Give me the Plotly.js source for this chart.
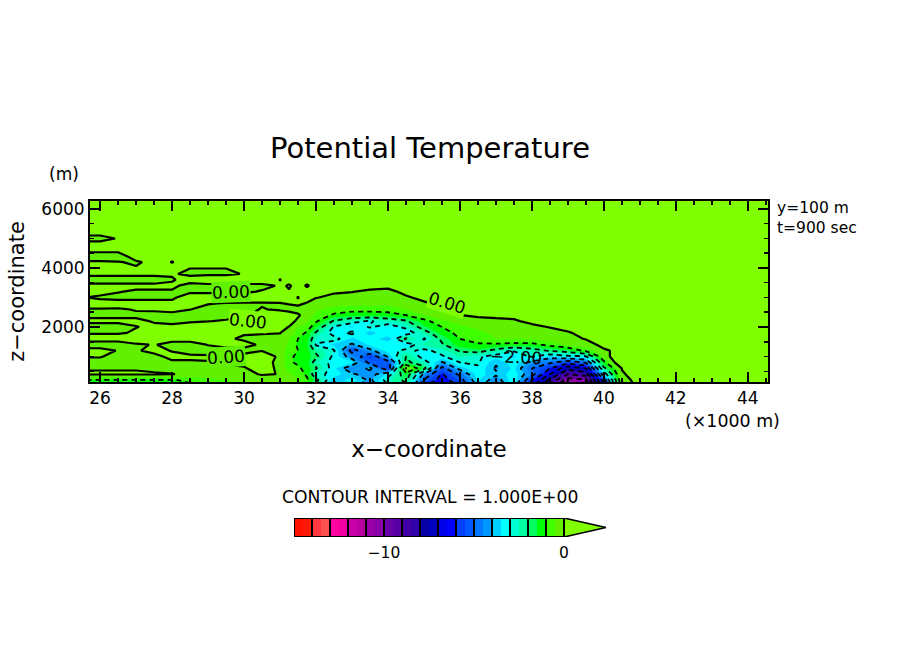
<!DOCTYPE html>
<html>
<head>
<meta charset="utf-8">
<script src="https://cdn.plot.ly/plotly-3.0.1.min.js"></script>
<style>html,body{margin:0;padding:0;background:#fff}</style>
</head>
<body>
<div id="chart" style="width:904px;height:654px"></div>
<script>
const xKm = [25.7,26,26.5,27,27.5,28,28.5,29,29.5,30,30.5,31,31.25,31.5,31.75,32,32.5,33,33.5,34,34.5,35,35.5,36,36.5,37,37.5,38,38.5,39,39.5,40,40.5,41,42,44.6];
const zM = [100,200,400,600,800,1000,1200,1400,1600,1800,2000,2200,2400,2600,2800,3000,3200,3400,3600,3800,4000,4200,4400,4600,4800,5000,5200,6300];
const r100=[-1.2,-1.2,-1.2,-1.2,-1.2,-1.2,-1,-.8,-.6,-.5,-.3,-.2,-.4,-.7,-1,-2,-4.1,-3.5,-4.4,-2.9,-2,-5.6,-6.8,-5.6,-3.6,-4.6,-3.2,-6.4,-8.8,-11,-10.8,-6,-.3,.2,.1,.1];
const r200=[-1.05,-1.05,-1.05,-1.05,-1.05,-1.05,-.9,-.7,-.5,-.4,-.2,-.15,-.3,-.5,-.9,-1.7,-3.9,-3.2,-4.2,-2.6,-1.8,-5.1,-6.4,-5.4,-3.4,-4.4,-3.1,-6,-8.2,-10.5,-10.2,-5.5,-.2,.2,.1,.1];
const r400=[.05,.05,.05,.05,.03,.01,-.05,-.1,-.1,-.1,.03,-.01,-.4,-.7,-1.1,-2.8,-3.2,-3.9,-4.3,-3.4,-1.4,-4.2,-6.1,-4.8,-3.2,-3.9,-3.2,-4.6,-7,-9,-8.5,-3.5,-.05,.2,.1,.1];
const r600=[-.03,-.03,-.03,-.03,-.06,-.1,-.1,-.1,-.05,-.02,.1,-.05,-.8,-.9,-1.2,-1.9,-3.4,-4.6,-3.8,-5.7,.05,-1.6,-5.3,-3.7,-3.1,-4.1,-3.4,-5,-6,-7.7,-7,-2.2,.02,.1,.1,.1];
const r800=[-.1,-.1,-.1,-.1,-.1,-.03,-.03,-.01,.03,.05,.15,-.1,-.9,-1.1,-1.3,-2.4,-3.3,-3.4,-5.3,-5.4,-1.8,-2.6,-4.1,-3,-2.9,-3.9,-3.2,-4.3,-4.8,-5.6,-4.8,-1.2,.8,.1,.1,.1];
const r1000=[.02,.02,-.1,-.1,-.05,.05,.05,.03,.1,.1,.15,-.05,-.9,-1.1,-1.3,-1.8,-3.2,-4.4,-5.7,-3.9,-2,-3.4,-3.1,-2.4,-2.9,-3.3,-3.6,-2.9,-3.6,-3.2,-3.1,-.3,.6,.1,.1,.1];
const r1200=[.2,.2,-.03,-.02,.05,-.01,-.1,-.1,-.1,-.1,-.01,-.2,-.7,-1,-1.3,-2.2,-2.9,-5.4,-4.2,-3.3,-2.8,-3.2,-2.7,-1.9,-1.6,-2.3,-2.9,-2.4,-1.9,-1.6,-.8,-.05,.1,.1,.1,.1];
const r1400=[-.3,-.3,-.3,-.05,.02,-.1,-.1,.01,.1,.1,-.05,-.2,-.6,-1.1,-1.4,-3.1,-3.6,-4.1,-3.4,-3.1,-3.6,-2.4,-2.1,-1.2,-1.1,-1.1,-1.2,-1.2,-.8,-.4,-.15,.1,.1,.1,.1,.1];
const r1600=[.25,.25,.25,.25,.2,.1,.1,.05,.05,-.05,-.1,-.1,-.5,-1,-1.3,-2.6,-2.7,-3.6,-3.1,-3.9,-1.8,-3.1,-1.8,-1,-.7,-.5,-.5,-.4,-.3,-.1,.02,.1,.1,.1,.1,.1];
const r1800=[-.05,-.05,-.05,.05,.1,.1,.1,.15,.03,.03,.03,.01,-.2,-.7,-1.1,-2.1,-3.4,-2.8,-3.8,-3,-3.5,-2.4,-1.3,-.8,-.6,-.4,-.4,-.3,-.15,-.03,.1,.1,.1,.1,.1,.1];
const r2000=[-.2,-.2,-.2,-.01,.05,.1,.1,.15,.2,.2,.2,.1,-.01,-.5,-.7,-1.4,-3.1,-3.6,-2.9,-3.4,-2.8,-1.6,-1,-.6,-.4,-.3,-.2,-.1,.02,.1,.1,.1,.1,.1,.1,.1];
const r2200=[.1,.1,.1,.05,-.02,-.1,-.03,-.01,.03,.1,.1,.2,.1,-.05,-.4,-.9,-2.1,-2.7,-3.1,-2.6,-2.1,-1.2,-.6,-.3,-.2,-.1,-.05,.1,.1,.1,.1,.1,.1,.1,.1,.1];
const r2400=[-.1,-.1,-.1,-.05,-.1,-.1,-.15,-.15,-.1,-.05,.1,.2,.15,.03,-.1,-.6,-1.1,-1.3,-1.3,-1.2,-1,-.5,-.15,-.01,.1,.1,.1,.1,.1,.1,.1,.1,.1,.1,.1,.1];
const r2600=[-.02,-.02,-.03,.02,.05,.1,.01,-.1,-.1,-.1,.02,-.05,-.1,-.08,-.2,-.4,-.7,-.8,-.8,-.8,-.5,-.2,.05,.1,.1,.1,.1,.1,.1,.1,.1,.1,.1,.1,.1,.1];
const r2800=[.14,.14,.14,.14,.14,.14,.1,.02,-.02,-.05,-.03,-.01,.02,.05,-.02,-.2,-.25,-.3,-.3,-.3,-.2,-.05,.1,.1,.1,.1,.1,.1,.1,.1,.1,.1,.1,.1,.1,.1];
const r3000=[-.01,-.05,-.1,-.1,-.1,-.1,.3,.3,.3,.3,.2,.1,.1,-.01,.1,.02,-.1,-.1,-.15,-.15,-.05,.1,.1,.1,.1,.1,.1,.1,.1,.1,.1,.1,.1,.1,.1,.1];
const r3200=[.1,.1,.02,-.05,-.05,-.05,-.1,-.1,-.1,-.1,.05,.1,.02,.1,.1,.1,.05,.01,-.05,-.1,.1,.1,.1,.1,.1,.1,.1,.1,.1,.1,.1,.1,.1,.1,.1,.1];
const r3400=[.1,.1,.1,.1,.1,.1,-.16,-.16,-.16,-.16,-.16,.06,-.03,.1,-.03,.1,.1,.1,.1,.1,.1,.1,.1,.1,.1,.1,.1,.1,.1,.1,.1,.1,.1,.1,.1,.1];
const r3600=[-.2,-.2,-.2,-.2,-.2,-.05,.2,.4,.4,.4,.4,-.01,.1,.1,.1,.1,.1,.1,.1,.1,.1,.1,.1,.1,.1,.1,.1,.1,.1,.1,.1,.1,.1,.1,.1,.1];
const r3800=[.1,.1,.1,.1,.1,.05,-.1,-.1,-.1,.03,.1,.1,.1,.1,.1,.1,.1,.1,.1,.1,.1,.1,.1,.1,.1,.1,.1,.1,.1,.1,.1,.1,.1,.1,.1,.1];
const r4000=[.1,.1,.1,.025,.1,.1,.01,.01,.01,.1,.1,.1,.1,.1,.1,.1,.1,.1,.1,.1,.1,.1,.1,.1,.1,.1,.1,.1,.1,.1,.1,.1,.1,.1,.1,.1];
const r4200=[.04,.04,.02,-.05,.1,-.01,.1,.1,.1,.1,.1,.1,.1,.1,.1,.1,.1,.1,.1,.1,.1,.1,.1,.1,.1,.1,.1,.1,.1,.1,.1,.1,.1,.1,.1,.1];
const r4400=[-.2,-.2,-.2,.2,.1,.1,.1,.1,.1,.1,.1,.1,.1,.1,.1,.1,.1,.1,.1,.1,.1,.1,.1,.1,.1,.1,.1,.1,.1,.1,.1,.1,.1,.1,.1,.1];
const r4600=[.1,.1,.1,.1,.1,.1,.1,.1,.1,.1,.1,.1,.1,.1,.1,.1,.1,.1,.1,.1,.1,.1,.1,.1,.1,.1,.1,.1,.1,.1,.1,.1,.1,.1,.1,.1];
const r4800=[.1,.1,.1,.1,.1,.1,.1,.1,.1,.1,.1,.1,.1,.1,.1,.1,.1,.1,.1,.1,.1,.1,.1,.1,.1,.1,.1,.1,.1,.1,.1,.1,.1,.1,.1,.1];
const r5000=[-.1,-.1,.02,.1,.1,.1,.1,.1,.1,.1,.1,.1,.1,.1,.1,.1,.1,.1,.1,.1,.1,.1,.1,.1,.1,.1,.1,.1,.1,.1,.1,.1,.1,.1,.1,.1];
const r5200=[.1,.1,.1,.1,.1,.1,.1,.1,.1,.1,.1,.1,.1,.1,.1,.1,.1,.1,.1,.1,.1,.1,.1,.1,.1,.1,.1,.1,.1,.1,.1,.1,.1,.1,.1,.1];
const r6300=[.1,.1,.1,.1,.1,.1,.1,.1,.1,.1,.1,.1,.1,.1,.1,.1,.1,.1,.1,.1,.1,.1,.1,.1,.1,.1,.1,.1,.1,.1,.1,.1,.1,.1,.1,.1];
const theta=[r100,r200,r400,r600,r800,r1000,r1200,r1400,r1600,r1800,r2000,r2200,r2400,r2600,r2800,r3000,r3200,r3400,r3600,r3800,r4000,r4200,r4400,r4600,r4800,r5000,r5200,r6300];

const shades=['#ff1000','#ff1800','#ff3840','#ff5050','#ff00a0','#f000a0','#c800a8','#b800a0','#9800a8','#8800a8','#6800a8','#5800a8','#4000a8','#3000a8','#0800a8','#0000c0','#0000e8','#0000ff','#0040ff','#0058ff','#0078ff','#0098ff','#00d0ff','#00ffff','#00ffd0','#00ffa0','#00ff60','#00ff00','#40ff00','#60f000'];
const aboveColor='#7fff00';
const barMid=[-14.75,-14.25,-13.75,-13.25,-12.75,-12.25,-11.75,-11.25,-10.75,-10.25,-9.75,-9.25,-8.75,-8.25,-7.75,-7.25,-6.75,-6.25,-5.75,-5.25,-4.75,-4.25,-3.75,-3.25,-2.75,-2.25,-1.75,-1.25,-.75,-.25];
const barEdges=[-15,-14,-13,-12,-11,-10,-9,-8,-7,-6,-5,-4,-3,-2,-1,0];
const arrowX=[0,0,2.33,0];
const arrowY=[0,1,.5,0];
const lblText=['0.00','0.00','0.00','0.00','−2.00'];
const lblX=[29.65,30.1,29.5,35.65,37.55];
const lblZ=[3200,2200,1000,2800,1000];
const lblAngle=[-2,6,-4,17,3];
const lblBg=['#60f000','#7fff00','#60f000','#7fff00',null];

const bands=[shades[0]].concat(shades,[aboveColor]);
const fillScale=bands.map((c,k)=>[k/(bands.length-1),c]);
const common={x:xKm,y:zM,z:theta,xaxis:'x',yaxis:'y',hoverinfo:'skip',showscale:false,type:'contour'};
const traces=[
  Object.assign({},common,{contours:{coloring:'fill',start:-15,end:0,size:.5,showlines:false},colorscale:fillScale,line:{width:0,smoothing:0},autocontour:false}),
  Object.assign({},common,{contours:{coloring:'none',start:-15,end:-1,size:1},line:{color:'#000',width:1.8,dash:'5px,4px',smoothing:0},autocontour:false}),
  Object.assign({},common,{contours:{coloring:'none',start:0,end:0,size:1},line:{color:'#000',width:2.2,dash:'solid',smoothing:0},autocontour:false}),
  {type:'heatmap',x:barMid,y:[.5],z:[barMid],xaxis:'x2',yaxis:'y2',zmin:-15,zmax:0,showscale:false,hoverinfo:'skip',
   colorscale:shades.flatMap((c,i)=>[[i/30,c],[(i+1)/30,c]]),xgap:0},
  {type:'scatter',mode:'lines',x:arrowX,y:arrowY,xaxis:'x2',yaxis:'y2',fill:'toself',fillcolor:aboveColor,line:{color:'#000',width:1.6},hoverinfo:'skip',showlegend:false},
  {type:'scatter',mode:'lines',x:barEdges.flatMap(e=>[e,e,null]).concat([-15,0,null,-15,0]),y:barEdges.flatMap(()=>[0,1,null]).concat([0,0,null,1,1]),xaxis:'x2',yaxis:'y2',line:{color:'#000',width:2},hoverinfo:'skip',showlegend:false}
];
const W=904,H=654;
const font='"DejaVu Sans", sans-serif';
const annos=lblText.map((t,i)=>({text:t,x:lblX[i],y:lblZ[i],xref:'x',yref:'y',showarrow:false,textangle:lblAngle[i],font:{family:font,size:17,color:'#000'},bgcolor:lblBg[i]||'rgba(0,0,0,0)',borderpad:0}));
function note(text,px,py,size,anchor){return {text:text,x:px/W,y:1-py/H,xref:'paper',yref:'paper',showarrow:false,xanchor:anchor,yanchor:'middle',font:{family:font,size:size,color:'#000'}};}
annos.push(note('(m)',47,174,17,'left'),note('y=100 m',775,208,15.5,'left'),note('t=900 sec',775,228,15.5,'left'),note('(×1000 m)',683,421,17.4,'left'),note('CONTOUR INTERVAL = 1.000E+00',430,497,17.2,'center'));
const layout={
  width:W,height:H,margin:{l:0,r:0,t:0,b:0,pad:0},paper_bgcolor:'#fff',plot_bgcolor:'#fff',showlegend:false,
  font:{family:font,color:'#000'},
  title:{text:'Potential Temperature',x:430/W,y:1-148/H,xanchor:'center',yanchor:'middle',xref:'paper',yref:'paper',font:{family:font,size:29,color:'#000'}},
  xaxis:{domain:[90/W,768/W],range:[25.72,44.56],anchor:'y',tickmode:'array',tickvals:[26,28,30,32,34,36,38,40,42,44],ticktext:['26','28','30','32','34','36','38','40','42','44'],ticks:'inside',ticklen:10,tickwidth:2,tickcolor:'#000',
    minor:{dtick:.5,ticks:'inside',ticklen:4,tickwidth:1.5,tickcolor:'#000',showgrid:false},showline:true,linewidth:2,linecolor:'#000',mirror:'allticks',showgrid:false,zeroline:false,tickfont:{family:font,size:17,color:'#000'},
    title:{text:'x−coordinate',standoff:33,font:{family:font,size:23,color:'#000'}},automargin:false},
  yaxis:{domain:[1-382/H,1-201/H],range:[136,6270],anchor:'x',tickmode:'array',tickvals:[2000,4000,6000],ticktext:['2000','4000','6000'],ticks:'inside',ticklen:10,tickwidth:2,tickcolor:'#000',
    minor:{dtick:500,ticks:'inside',ticklen:4,tickwidth:1.5,tickcolor:'#000',showgrid:false},showline:true,linewidth:2,linecolor:'#000',mirror:'allticks',showgrid:false,zeroline:false,tickfont:{family:font,size:17,color:'#000'},
    title:{text:'z−coordinate\u00a0\u00a0',standoff:11,font:{family:font,size:21,color:'#000'}},automargin:false},
  xaxis2:{domain:[294/W,607/W],range:[-15,2.39],anchor:'y2',tickmode:'array',tickvals:[-10,0],ticktext:['−10','0'],ticks:'outside',ticklen:1,tickcolor:'rgba(0,0,0,0)',showline:false,showgrid:false,zeroline:false,tickfont:{family:font,size:15.5,color:'#000'},fixedrange:true},
  yaxis2:{domain:[1-537/H,1-518/H],range:[0,1],anchor:'x2',visible:false,fixedrange:true},
  annotations:annos
};
Plotly.newPlot('chart',traces,layout,{displayModeBar:false,staticPlot:true});
</script>
</body>
</html>
